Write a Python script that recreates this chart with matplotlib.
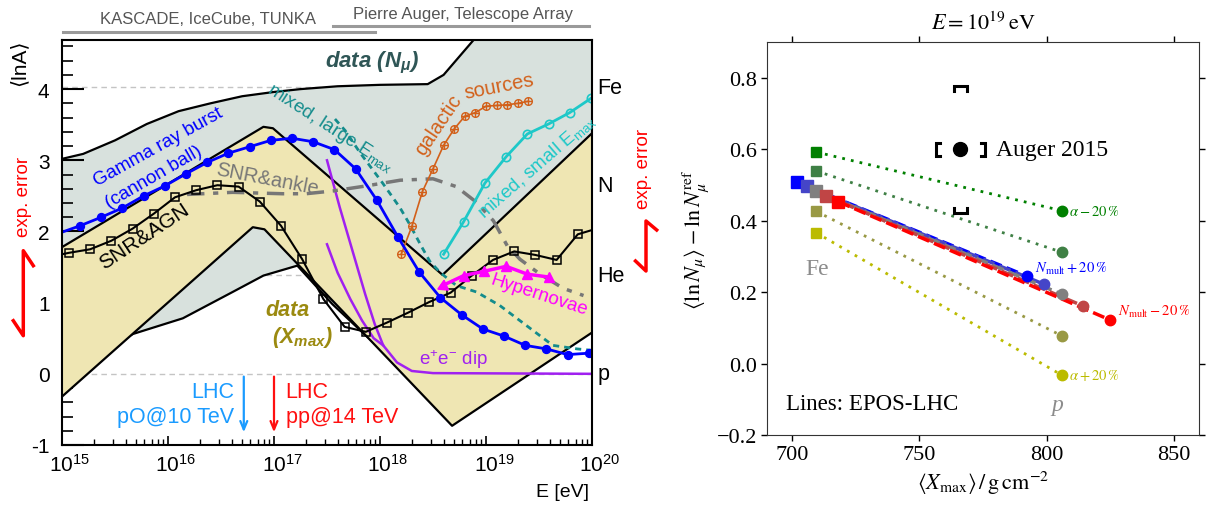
import numpy as np
import matplotlib
matplotlib.use('Agg')
import matplotlib.pyplot as plt
from matplotlib.lines import Line2D
from matplotlib.ticker import FixedLocator, FixedFormatter, NullFormatter
from matplotlib.transforms import ScaledTranslation

plt.rcParams['mathtext.fontset'] = 'custom'
plt.rcParams['mathtext.rm'] = 'Liberation Sans'
plt.rcParams['mathtext.it'] = 'Liberation Sans:italic'
plt.rcParams['mathtext.bf'] = 'Liberation Sans:bold:italic'
plt.rcParams['mathtext.sf'] = 'Liberation Sans'
plt.rcParams['font.family'] = ['Liberation Sans', 'DejaVu Sans']

# ===================== LEFT PANEL DATA (log10 E/eV, <lnA>) =====================
nmu_up_lgE = [15.0, 15.2, 15.5, 15.8, 16.1, 16.4, 16.7, 17.0, 17.25, 17.6, 18.0, 18.45, 18.6, 18.9, 20.0]
nmu_up = [3.02, 3.09, 3.28, 3.51, 3.69, 3.80, 3.90, 3.96, 4.00, 4.04, 4.06, 4.07, 4.2, 4.72, 4.8]
nmu_lo_lgE = [15.0, 15.67, 16.14, 16.61, 16.9, 17.22, 17.55, 17.85, 17.95, 18.1, 18.6, 20.0]
nmu_lo = [0.0, 0.56, 0.78, 1.15, 1.38, 1.52, 0.98, 0.56, 0.43, 0.35, 0.0, 1.0]

xmax_up_lgE = [15.0, 16.9, 16.99, 18.59, 20.0]
xmax_up = [1.78, 3.47, 3.45, 1.39, 3.38]
xmax_lo_lgE = [15.0, 16.8, 16.91, 18.68, 20.0]
xmax_lo = [-0.32, 2.06, 2.03, -0.73, 0.58]

grb_lgE = [15.0] + [15.17 + 0.2 * k for k in range(25)]
grb = [1.99, 2.08, 2.20, 2.33, 2.50, 2.64, 2.81, 2.97, 3.10, 3.19, 3.28, 3.31, 3.26,
       3.15, 2.88, 2.44, 1.92, 1.43, 1.07, 0.83, 0.63, 0.53, 0.40, 0.35, 0.27, 0.29]

agn_lgE = [15.0] + [15.066 + 0.2 * k for k in range(25)] + [20.0]
agn = [1.68, 1.70, 1.75, 1.87, 2.04, 2.25, 2.48, 2.58, 2.65, 2.63, 2.42, 2.08, 1.61, 1.05,
       0.66, 0.59, 0.72, 0.86, 1.01, 1.14, 1.38, 1.60, 1.72, 1.67, 1.60, 1.96, 2.02]

ankle_lgE = [16.18, 16.61, 17.08, 17.30, 17.56, 17.87, 18.19, 18.50, 18.72, 18.91, 19.07,
             19.20, 19.32, 19.51, 19.73, 19.92]
ankle = [2.52, 2.55, 2.53, 2.53, 2.57, 2.64, 2.72, 2.74, 2.63, 2.41, 2.15, 1.80, 1.61, 1.40, 1.20, 1.10]

large_lgE = [17.575, 17.67, 17.81, 17.94, 18.02, 18.11, 18.19, 18.28, 18.38, 18.47, 18.57,
             18.72, 18.91, 19.13, 19.38, 19.63, 19.86, 20.0]
large = [3.58, 3.42, 3.11, 2.85, 2.69, 2.50, 2.33, 2.10, 1.82, 1.58, 1.42, 1.24, 1.15, 0.96,
         0.68, 0.40, 0.35, 0.33]

gal_lgE = [18.2 + 0.1 * k for k in range(13)]
gal = [1.68, 2.07, 2.56, 2.88, 3.21, 3.44, 3.62, 3.67, 3.76, 3.77, 3.78, 3.80, 3.83]

small_lgE = [18.60, 18.79, 18.99, 19.19, 19.39, 19.59, 19.79, 19.99]
small = [1.68, 2.14, 2.68, 3.05, 3.37, 3.51, 3.67, 3.87]

hyp_lgE = [18.59, 18.79, 18.98, 19.19, 19.39, 19.59]
hyp = [1.24, 1.38, 1.44, 1.51, 1.40, 1.36]

dipA_lgE = [17.50, 17.62, 17.75, 17.86, 17.95, 18.03, 18.16, 18.30, 18.5, 20.0]
dipA = [3.00, 2.34, 1.68, 1.12, 0.70, 0.40, 0.16, 0.04, 0.01, 0.0]
dipB_lgE = [17.50, 17.60, 17.72, 17.83, 17.94, 18.03]
dipB = [1.82, 1.42, 1.05, 0.75, 0.50, 0.40]

mass_names = ['p', 'He', 'N', 'Fe']
mass_lnA = [0.0, np.log(4), np.log(14), np.log(56)]

lhc_lgE = [16.715, 17.0]
lhc_labels = ['LHC\npO@10 TeV', 'LHC\npp@14 TeV']

# ===================== RIGHT PANEL DATA =====================
alpha_m20_x = [709.4, 805.9]; alpha_m20_y = [0.592, 0.428]
alpha_m10_x = [709.4, 805.9]; alpha_m10_y = [0.539, 0.312]
alpha_p10_x = [709.4, 805.9]; alpha_p10_y = [0.426, 0.078]
alpha_p20_x = [709.4, 805.9]; alpha_p20_y = [0.366, -0.032]
nm_p20_x = [702.0, 792.5]; nm_p20_y = [0.507, 0.244]
nm_p10_x = [705.6, 799.0]; nm_p10_y = [0.496, 0.222]
ref_x = [709.4, 806.0]; ref_y = [0.483, 0.194]
nm_m10_x = [713.4, 814.4]; nm_m10_y = [0.469, 0.161]
nm_m20_x = [718.1, 825.0]; nm_m20_y = [0.453, 0.122]

auger_x, auger_y = 766.0, 0.600
auger_x_sys = (756.5, 775.7)
auger_y_sys = (0.422, 0.778)

r_xticks = [700, 750, 800, 850]
r_yticks = [-0.2, 0.0, 0.2, 0.4, 0.6, 0.8]
r_yticklabels = ['\u22120.2', '0.0', '0.2', '0.4', '0.6', '0.8']

# ===================== FIGURE =====================
W, H = 1208, 506
fig = plt.figure(figsize=(W / 100, H / 100), dpi=100)
def fx(px): return px / W
def fy(py): return 1 - py / H

axL = fig.add_axes([fx(62), fy(446), (592 - 62) / W, (446 - 41) / H])
axR = fig.add_axes([fx(767), fy(436), (1199 - 767) / W, (436 - 43) / H])

def E(a):
    return 10.0 ** np.asarray(a, dtype=float)

# ---------------- left panel ----------------
axL.set_xscale('log')
axL.set_xlim(1e15, 1e20)
axL.set_ylim(-1, 4.69)

for v in mass_lnA:
    axL.axhline(v, color='#c4c4c4', ls=(0, (4, 3)), lw=1.0, zorder=0.5)

NMU_C = '#d8e1dd'
XMAX_C = '#efe6b3'
axL.fill(E(nmu_up_lgE + nmu_lo_lgE[::-1]), nmu_up + nmu_lo[::-1], facecolor=NMU_C,
         edgecolor='none', zorder=1)
axL.plot(E(nmu_up_lgE), nmu_up, color='k', lw=1.6, zorder=1.2)
axL.plot(E(nmu_lo_lgE), nmu_lo, color='k', lw=1.6, zorder=1.2)
axL.fill(E(xmax_up_lgE + xmax_lo_lgE[::-1]), xmax_up + xmax_lo[::-1], facecolor=XMAX_C,
         edgecolor='none', zorder=2)
axL.plot(E(xmax_up_lgE), xmax_up, color='k', lw=1.6, zorder=2.2)
axL.plot(E(xmax_lo_lgE), xmax_lo, color='k', lw=1.6, zorder=2.2)

# models
axL.plot(E(dipA_lgE), dipA, color='#a020f0', lw=1.8, zorder=3)
axL.plot(E(dipB_lgE), dipB, color='#a020f0', lw=1.8, zorder=3)
axL.plot(E(ankle_lgE), ankle, color='#777777', lw=2.5, ls=(0, (5, 2.5, 1.5, 2.5)), zorder=3)
axL.plot(E(large_lgE), large, color='#148c8c', lw=2.0, ls=(0, (2.2, 1.8)), zorder=3)
axL.plot(E(agn_lgE), agn, color='k', lw=1.5, marker='s', ms=6.3, mfc='none', mec='k',
         mew=1.1, markevery=list(range(1, len(agn) - 1)), zorder=4)
axL.plot(E(gal_lgE), gal, color='#d2601a', lw=1.2, marker='o', ms=5.5, mfc='none',
         mec='#d2601a', mew=1.0, zorder=4)
axL.plot(E(gal_lgE), gal, ls='none', marker='+', ms=5.5, mec='#d2601a', mew=1.0, zorder=4)
axL.plot(E(small_lgE), small, color='#1ec8c8', lw=2.0, marker='o', ms=6, mfc='none',
         mec='#1ec8c8', mew=1.2, zorder=4)
axL.plot(E(hyp_lgE), hyp, color='#ff00ff', lw=2.5, marker='^', ms=7.5,
         markevery=list(range(1, len(hyp))), zorder=4)
axL.plot(E(hyp_lgE[:1]), hyp[:1], ls='none', marker=(3, 0, 115), ms=9, color='#ff00ff', zorder=4)
axL.plot(E(grb_lgE), grb, color='#0000ff', lw=2.0, marker='o', ms=5.7,
         markevery=list(range(1, len(grb))), zorder=5)

# ticks
axL.xaxis.set_major_locator(FixedLocator(E([15, 16, 17, 18, 19, 20])))
axL.xaxis.set_major_formatter(FixedFormatter([r'$10^{%d}$' % d for d in [15, 16, 17, 18, 19, 20]]))
axL.xaxis.set_minor_locator(FixedLocator([m * 10.0 ** d for d in range(15, 20) for m in range(2, 10)]))
axL.xaxis.set_minor_formatter(NullFormatter())
axL.set_yticks([-1, 0, 1, 2, 3, 4])
axL.set_yticklabels(['-1', '0', '1', '2', '3', '4'])
axL.yaxis.set_minor_locator(FixedLocator(np.arange(-1, 4.7, 0.2)))
axL.tick_params(axis='y', which='major', direction='in', length=16, width=1.5, labelsize=15, pad=9)
axL.tick_params(axis='y', which='minor', direction='in', length=8, width=1.2)
axL.tick_params(axis='x', which='major', direction='in', length=6.5, width=1.2, labelsize=15, pad=6)
axL.tick_params(axis='x', which='minor', direction='in', length=4.5, width=1.0)
for s in axL.spines.values():
    s.set_linewidth(1.5)
    s.set_zorder(6)
shift = ScaledTranslation(8 / 100, 0, fig.dpi_scale_trans)
for lbl in axL.get_xticklabels():
    lbl.set_transform(lbl.get_transform() + shift)

# texts, left
def tL(lgE, y, s, **kw):
    kw.setdefault('ha', 'center'); kw.setdefault('va', 'center')
    axL.text(10.0 ** lgE, y, s, rotation_mode='anchor', clip_on=False, zorder=7, **kw)

tL(15.906, 3.19, 'Gamma ray burst', color='#0000ff', fontsize=13.5, rotation=29)
tL(15.868, 2.77, '(cannon ball)', color='#0000ff', fontsize=13.5, rotation=30)
tL(15.78, 1.94, 'SNR&AGN', color='k', fontsize=15, rotation=33.5)
tL(16.94, 2.75, 'SNR&ankle', color='#777777', fontsize=14.5, rotation=-11)
tL(17.53, 3.47, r'mixed, large E$_{\mathrm{max}}$', color='#148c8c', fontsize=13.5, rotation=-33)
tL(18.549, 3.50, 'galactic', color='#d2601a', fontsize=14.5, rotation=56)
tL(19.127, 4.05, 'sources', color='#d2601a', fontsize=14.5, rotation=11)
tL(19.478, 2.92, r'mixed, small E$_{\mathrm{max}}$', color='#1ec8c8', fontsize=13.5, rotation=41)
tL(19.50, 1.12, 'Hypernovae', color='#ff00ff', fontsize=13.5, rotation=-18)
tL(17.925, 4.38, r'data (N$_{\mathbf{\mu}}$)', color='#2f5656', fontsize=16, fontweight='bold', style='italic')
tL(17.13, 0.91, 'data', color='#9b8a10', fontsize=15.5, fontweight='bold', style='italic')
tL(17.264, 0.52, r'(X$_{\mathbf{max}}$)', color='#9b8a10', fontsize=15.5, fontweight='bold', style='italic')
tL(18.689, 0.21, r'e$^{+}$e$^{-}$ dip', color='#a020f0', fontsize=13.5)

for name, v in zip(mass_names, mass_lnA):
    axL.text(10 ** 20.05, v, name, ha='left', va='center', fontsize=15.5, clip_on=False)

# LHC arrows
for lg, col in zip(lhc_lgE, ['#1a9bff', '#ff1010']):
    axL.annotate('', xy=(10 ** lg, -0.86), xytext=(10 ** lg, 0.0),
                 arrowprops=dict(arrowstyle='->,head_length=0.6,head_width=0.25', color=col, lw=1.6),
                 zorder=7)
axL.text(10 ** (lhc_lgE[0] - 0.09), -0.43, lhc_labels[0], color='#1a9bff', fontsize=15.5,
         ha='right', va='center', linespacing=1.25)
axL.text(10 ** (lhc_lgE[1] + 0.11), -0.43, lhc_labels[1], color='#ff1010', fontsize=15.5,
         ha='left', va='center', linespacing=1.25)

# figure-level annotations (left)
fig.text(fx(589), fy(493), 'E [eV]', ha='right', va='center', fontsize=14)
fig.text(fx(19), fy(63), '\u27e8lnA\u27e9', rotation=90, ha='center', va='center', fontsize=15)
fig.text(fx(208), fy(19.5), 'KASCADE, IceCube, TUNKA', ha='center', va='center', fontsize=12, color='#555555')
fig.text(fx(463), fy(14), 'Pierre Auger, Telescope Array', ha='center', va='center', fontsize=12, color='#555555')
fig.add_artist(Line2D([fx(63), fx(375)], [fy(32.5), fy(32.5)], color='#9a9a9a', lw=2.2))
fig.add_artist(Line2D([fx(333), fx(589)], [fy(26.5), fy(26.5)], color='#9a9a9a', lw=2.2))
fig.text(fx(23), fy(197), 'exp. error', rotation=90, ha='center', va='center', fontsize=13.5, color='#ff0000')
fig.add_artist(Line2D([fx(33.3), fx(23.3), fx(23.3), fx(13.3)],
                      [fy(266.7), fy(251.7), fy(336.7), fy(321.7)], color='#ff0000', lw=2.5))
fig.text(fx(643.5), fy(169), 'exp. error', rotation=90, ha='center', va='center', fontsize=13.5, color='#ff0000')
fig.add_artist(Line2D([fx(656.7), fx(646), fx(646), fx(635.5)],
                      [fy(231), fy(222), fy(272), fy(262)], color='#ff0000', lw=2.5))

# ---------------- right panel ----------------
axR.set_xlim(690, 860)
axR.set_ylim(-0.2, 0.9)

dotted = (0, (1, 2.2))
dashed = (0, (3.5, 1.5))
for xs, ys, c in [(alpha_m20_x, alpha_m20_y, '#008000'), (alpha_m10_x, alpha_m10_y, '#3f8045'),
                  (alpha_p10_x, alpha_p10_y, '#999944'), (alpha_p20_x, alpha_p20_y, '#bbbb00')]:
    axR.plot(xs, ys, color=c, lw=2.0, ls=dotted, zorder=2)
    axR.plot(xs[:1], ys[:1], ls='none', marker='s', ms=7.5, color=c, zorder=3)
    axR.plot(xs[1:], ys[1:], ls='none', marker='o', ms=7.5, color=c, zorder=3)
for xs, ys, c in [(nm_p20_x, nm_p20_y, '#0000ff'), (nm_p10_x, nm_p10_y, '#4545c8'),
                  (ref_x, ref_y, '#808080'), (nm_m10_x, nm_m10_y, '#c04545'),
                  (nm_m20_x, nm_m20_y, '#ff0000')]:
    axR.plot(xs, ys, color=c, lw=2.5, ls=dashed, zorder=2)
for xs, ys, c in [(nm_p20_x, nm_p20_y, '#0000ff'), (nm_p10_x, nm_p10_y, '#4545c8'),
                  (ref_x, ref_y, '#808080'), (nm_m10_x, nm_m10_y, '#c04545'),
                  (nm_m20_x, nm_m20_y, '#ff0000')]:
    axR.plot(xs[:1], ys[:1], ls='none', marker='s', ms=8, color=c, zorder=3)
    axR.plot(xs[1:], ys[1:], ls='none', marker='o', ms=7.5, color=c, zorder=3)

# Auger point with systematic brackets
axR.plot([auger_x], [auger_y], 'o', color='k', ms=10, zorder=4)
bw, bh = 1.6, 0.018
for xb, d in [(auger_x_sys[0], bw), (auger_x_sys[1], -bw)]:
    axR.plot([xb + d, xb, xb, xb + d], [auger_y - bh, auger_y - bh, auger_y + bh, auger_y + bh],
             color='k', lw=2.2, zorder=4, solid_joinstyle='miter')
cw, ch = 2.6, 0.014
for yb, d in [(auger_y_sys[1], -ch), (auger_y_sys[0], ch)]:
    axR.plot([auger_x - cw, auger_x - cw, auger_x + cw, auger_x + cw], [yb + d, yb, yb, yb + d],
             color='k', lw=2.2, zorder=4, solid_joinstyle='miter')

serif = ['Liberation Serif', 'DejaVu Serif']
axR.text(780.0, auger_y, 'Auger 2015', fontsize=17, family=serif, va='center', ha='left')
axR.text(697.6, -0.112, 'Lines: EPOS-LHC', fontsize=16.5, family=serif, va='center', ha='left')
axR.text(709.7, 0.267, 'Fe', fontsize=17, family=serif, color='#8c8c8c', va='center', ha='center')
axR.text(804.2, -0.115, 'p', fontsize=17, family=serif, style='italic', color='#8c8c8c', va='center', ha='center')
axR.text(809.0, alpha_m20_y[1], r'$\alpha-20\,\%$', math_fontfamily='stix', fontsize=10.5, color='#008000', va='center')
axR.text(809.0, alpha_p20_y[1], r'$\alpha+20\,\%$', math_fontfamily='stix', fontsize=10.5, color='#bbbb00', va='center')
axR.text(795.4, 0.267, r'$N_{\rm mult}+20\,\%$', math_fontfamily='stix', fontsize=10.5, color='#0000ff', va='center')
axR.text(828.2, 0.148, r'$N_{\rm mult}-20\,\%$', math_fontfamily='stix', fontsize=10.5, color='#ff0000', va='center')

axR.set_xticks(r_xticks)
axR.set_xticklabels([str(v) for v in r_xticks])
axR.set_yticks(r_yticks)
axR.set_yticklabels(r_yticklabels)
axR.tick_params(direction='out', top=True, right=True, labeltop=False, labelright=False,
                length=4, width=1.0, labelsize=16, pad=3)
for lbl in axR.get_xticklabels() + axR.get_yticklabels():
    lbl.set_fontfamily(serif)
for s in axR.spines.values():
    s.set_color('#333333')
axR.set_title(r'$E = 10^{19}\,\mathrm{eV}$', math_fontfamily='stix', fontsize=16, pad=9)
axR.set_xlabel(r'$\langle X_{\rm max}\rangle\,/\,\mathrm{g\,cm^{-2}}$', math_fontfamily='stix',
               fontsize=16, labelpad=4)
axR.set_ylabel(r'$\langle\ln N_\mu\rangle - \ln N_\mu^{\rm ref}$', math_fontfamily='stix',
               fontsize=16, labelpad=4)

fig.savefig('out.png', dpi=100)
